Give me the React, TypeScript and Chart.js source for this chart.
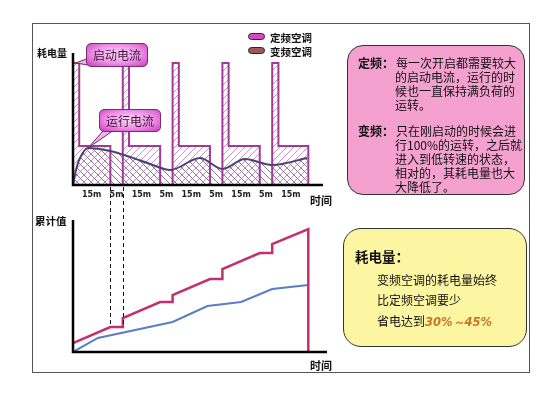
import React, { useEffect, useRef } from "react";
import { Chart, registerables } from "chart.js";
Chart.register(...registerables);

// ---------- data ----------
const segmentLabels = ["15m", "5m", "15m", "5m", "15m", "5m", "15m", "5m", "15m"];
const segmentMinutes = [15, 5, 15, 5, 15, 5, 15, 5, 15];

// 定频空调 instantaneous consumption (start-up spike, then full load, then off)
const fixedTimes = [0, 0, 2.5, 2.5, 15, 15, 20, 20, 22.5, 22.5, 35, 35, 40, 40, 42.5, 42.5, 55, 55, 60, 60, 62.5, 62.5, 75, 75, 80, 80, 82.5, 82.5, 94.5, 94.5];
const fixedPower = [0, 122, 122, 39, 39, 0, 0, 122, 122, 39, 39, 0, 0, 122, 122, 39, 39, 0, 0, 122, 122, 39, 39, 0, 0, 122, 122, 39, 39, 0];

// 变频空调 instantaneous consumption
const inverterTimes = [0, 1.5, 3, 6, 15, 23, 31, 39, 51, 60, 69, 80, 94];
const inverterPower = [0, 18, 28, 37, 34, 28, 21, 15, 27, 16, 26, 20, 27];

// cumulative values
const fixedTotalTimes = [0, 15, 20, 20, 35, 40, 40, 55, 60, 60, 75, 80, 80, 94.5, 94.5];
const fixedTotal = [9, 25, 25, 34, 50, 50, 57, 73, 73, 83, 99, 99, 108, 123, 0];
const inverterTotalTimes = [0, 10, 40, 54, 67.5, 80, 94.5];
const inverterTotal = [0, 14, 30, 46, 50, 63, 67];

const dashedMarkTimes = [15, 20];

// ---------- helpers ----------
const W = 558;
const H = 396;
const CJK = '"Noto Sans CJK SC", "Noto Sans", sans-serif';

function toPoints(xs: number[], ys: number[]) {
  return xs.map((x, i) => ({ x, y: ys[i] }));
}

function makePattern(ctx: CanvasRenderingContext2D, dir: "slash" | "back", color: string, size: number, width: number) {
  const c = document.createElement("canvas");
  c.width = size;
  c.height = size;
  const g = c.getContext("2d")!;
  g.strokeStyle = color;
  g.lineWidth = width;
  g.beginPath();
  if (dir === "slash") {
    g.moveTo(-1, size + 1); g.lineTo(size + 1, -1);
    g.moveTo(-1, 1); g.lineTo(1, -1);
    g.moveTo(size - 1, size + 1); g.lineTo(size + 1, size - 1);
  } else {
    g.moveTo(-1, -1); g.lineTo(size + 1, size + 1);
    g.moveTo(size - 1, -1); g.lineTo(size + 1, 1);
    g.moveTo(-1, size - 1); g.lineTo(1, size + 1);
  }
  g.stroke();
  return ctx.createPattern(c, "repeat")!;
}

function drawPointer(ctx: CanvasRenderingContext2D, base: number[][], tx: number, ty: number) {
  ctx.beginPath();
  ctx.moveTo(base[0][0], base[0][1]);
  ctx.lineTo(tx, ty);
  ctx.lineTo(base[1][0], base[1][1]);
  ctx.closePath();
  ctx.fillStyle = "#f3b6ec";
  ctx.fill();
  ctx.strokeStyle = "#6b2a63";
  ctx.lineWidth = 1;
  ctx.stroke();
}

const topDecor = {
  id: "topDecor",
  afterDraw(chart: any) {
    const { ctx, chartArea: a, scales } = chart;
    const x = scales.x;
    const y = scales.y;
    ctx.save();
    ctx.strokeStyle = "#000";
    ctx.lineWidth = 2.5;
    ctx.beginPath();
    ctx.moveTo(a.left, a.top);
    ctx.lineTo(a.left, a.bottom);
    ctx.lineTo(a.right + 1, a.bottom);
    ctx.stroke();

    ctx.font = 'bold 8px "DejaVu Sans", sans-serif';
    ctx.fillStyle = "#222";
    ctx.textAlign = "center";
    ctx.textBaseline = "middle";
    let t = 0;
    segmentMinutes.forEach((m, i) => {
      ctx.fillText(segmentLabels[i], x.getPixelForValue(t + m / 2), a.bottom + 10);
      t += m;
    });

    // callout pointers
    drawPointer(ctx, [[89, 58], [94, 66]], x.getPixelForValue(1.2), y.getPixelForValue(fixedPower[1]));
    drawPointer(ctx, [[104, 130], [114, 130]], x.getPixelForValue(inverterTimes[3]), y.getPixelForValue(inverterPower[3]));
    ctx.restore();
  },
};

const bottomDecor = {
  id: "bottomDecor",
  afterDraw(chart: any) {
    const { ctx, chartArea: a, scales } = chart;
    const x = scales.x;
    const y = scales.y;
    ctx.save();
    ctx.strokeStyle = "#000";
    ctx.lineWidth = 2.5;
    ctx.beginPath();
    ctx.moveTo(a.left, a.top);
    ctx.lineTo(a.left, a.bottom);
    ctx.lineTo(a.right + 5, a.bottom);
    ctx.stroke();

    ctx.setLineDash([4, 3]);
    ctx.lineWidth = 1;
    ctx.strokeStyle = "#111";
    dashedMarkTimes.forEach((t) => {
      const px = Math.round(x.getPixelForValue(t)) + 0.5;
      ctx.beginPath();
      ctx.moveTo(px, 187);
      ctx.lineTo(px, y.getPixelForValue(fixedTotal[1]));
      ctx.stroke();
    });
    ctx.restore();
  },
};

function baseOptions(padding: any) {
  return {
    responsive: false,
    animation: false as const,
    devicePixelRatio: 1,
    layout: { padding },
    plugins: {
      legend: { display: false },
      tooltip: { enabled: false },
      filler: { drawTime: "beforeDatasetsDraw" as const },
    },
    elements: { point: { radius: 0 } },
    scales: {
      x: { type: "linear" as const, min: 0, max: 100, display: false },
      y: { min: 0, max: 132, display: false },
    },
  };
}

type TProps = { x: number; y: number; s: number; b?: boolean; c?: string; children: React.ReactNode; style?: React.CSSProperties };
function T({ x, y, s, b, c, children, style }: TProps) {
  const h = Math.round(s * 1.4);
  return (
    <div
      style={{
        position: "absolute",
        left: x,
        top: y - h / 2,
        height: h,
        lineHeight: h + "px",
        fontSize: s,
        fontWeight: b ? 700 : 400,
        color: c || "#111",
        fontFamily: CJK,
        whiteSpace: "nowrap",
        ...style,
      }}
    >
      {children}
    </div>
  );
}

export default function App() {
  const topRef = useRef<HTMLCanvasElement>(null);
  const botRef = useRef<HTMLCanvasElement>(null);

  useEffect(() => {
    const tctx = topRef.current!.getContext("2d")!;
    const slash = makePattern(tctx, "slash", "#cc92c6", 7, 1);
    const back = makePattern(tctx, "back", "#8a7394", 7, 1);

    const top = new Chart(topRef.current!, {
      type: "line",
      data: {
        datasets: [
          {
            label: "变频空调",
            data: toPoints(inverterTimes, inverterPower),
            borderColor: "#4f3f74",
            borderWidth: 2,
            cubicInterpolationMode: "monotone",
            fill: "origin",
            backgroundColor: back,
          },
          {
            label: "定频空调",
            data: toPoints(fixedTimes, fixedPower),
            borderColor: "#a23a95",
            borderWidth: 2,
            tension: 0,
            fill: "origin",
            backgroundColor: slash,
          },
        ],
      },
      options: baseOptions({ left: 73, top: 53, right: W - 322, bottom: H - 185 }) as any,
      plugins: [topDecor],
    });

    const bottom = new Chart(botRef.current!, {
      type: "line",
      data: {
        datasets: [
          {
            label: "定频空调",
            data: toPoints(fixedTotalTimes, fixedTotal),
            borderColor: "#c4306f",
            borderWidth: 2.5,
            tension: 0,
            fill: false,
          },
          {
            label: "变频空调",
            data: toPoints(inverterTotalTimes, inverterTotal),
            borderColor: "#5a7ec2",
            borderWidth: 2,
            tension: 0,
            fill: false,
          },
        ],
      },
      options: baseOptions({ left: 73, top: 220, right: W - 322, bottom: H - 352 }) as any,
      plugins: [bottomDecor],
    });

    return () => {
      top.destroy();
      bottom.destroy();
    };
  }, []);

  const canvasStyle: React.CSSProperties = { position: "absolute", left: 0, top: 0, width: W, height: H, display: "block" };
  const callout: React.CSSProperties = {
    position: "absolute",
    background: "radial-gradient(ellipse at 50% 45%, #fbd6f6 0%, #ee8fe6 55%, #c93cba 100%)",
    border: "1px solid #7a2a70",
    borderRadius: 5,
    fontFamily: CJK,
    fontSize: 12,
    color: "#3b1838",
    textAlign: "center",
    boxSizing: "border-box",
  };
  const swatch: React.CSSProperties = {
    position: "absolute",
    width: 17,
    height: 7,
    borderRadius: 4,
    border: "1px solid #3a2030",
    boxSizing: "border-box",
  };

  return (
    <div style={{ position: "absolute", left: 0, top: 0, width: W, height: H, background: "#fff", overflow: "hidden" }}>
      <canvas ref={topRef} width={W} height={H} style={canvasStyle} />
      <canvas ref={botRef} width={W} height={H} style={canvasStyle} />

      {/* outer frame */}
      <div style={{ position: "absolute", left: 32, top: 23, width: 498, height: 350, border: "1px solid #555", boxSizing: "border-box" }} />

      {/* axis labels */}
      <T x={37} y={53} s={10} b>耗电量</T>
      <T x={310} y={200} s={11} b>时间</T>
      <T x={35} y={220} s={10.5} b>累计值</T>
      <T x={310} y={365} s={11} b>时间</T>

      {/* legend */}
      <div style={{ ...swatch, left: 248, top: 33, background: "#d549c6" }} />
      <T x={270} y={37} s={10.5} b>定频空调</T>
      <div style={{ ...swatch, left: 248, top: 47, background: "#9b5b56" }} />
      <T x={270} y={51} s={10.5} b>变频空调</T>

      {/* callouts */}
      <div style={{ ...callout, left: 86, top: 43, width: 62, height: 24, lineHeight: "22px" }}>启动电流</div>
      <div style={{ ...callout, left: 99, top: 109, width: 62, height: 23, lineHeight: "21px" }}>运行电流</div>

      {/* pink explanation box */}
      <div style={{ position: "absolute", left: 347, top: 45, width: 178, height: 150, background: "#f4a1cf", border: "1.5px solid #333", borderRadius: 16, boxSizing: "border-box" }} />
      <T x={358} y={62} s={12} b>定频：</T>
      <T x={396} y={62} s={12}>每一次开启都需要较大</T>
      <T x={395} y={76} s={12}>的启动电流，运行的时</T>
      <T x={395} y={90} s={12}>候也一直保持满负荷的</T>
      <T x={395} y={104} s={12}>运转。</T>
      <T x={358} y={130} s={12} b>变频：</T>
      <T x={396} y={130} s={12}>只在刚启动的时候会进</T>
      <T x={395} y={144} s={12}>行100%的运转，之后就</T>
      <T x={395} y={158} s={12}>进入到低转速的状态，</T>
      <T x={395} y={172} s={12}>相对的，其耗电量也大</T>
      <T x={395} y={186} s={12}>大降低了。</T>

      {/* yellow summary box */}
      <div style={{ position: "absolute", left: 343, top: 228, width: 184, height: 119, background: "#fcf5a2", border: "1.5px solid #333", borderRadius: 18, boxSizing: "border-box" }} />
      <T x={355} y={256} s={13.5} b>耗电量：</T>
      <T x={377} y={279} s={12}>变频空调的耗电量始终</T>
      <T x={377} y={299} s={12}>比定频空调要少</T>
      <T x={377} y={320} s={12}>
        省电达到
        <span style={{ color: "#c8742a", fontWeight: 700, fontStyle: "italic", fontFamily: '"DejaVu Sans", sans-serif', fontSize: 11.5 }}>30%～45%</span>
      </T>
    </div>
  );
}
